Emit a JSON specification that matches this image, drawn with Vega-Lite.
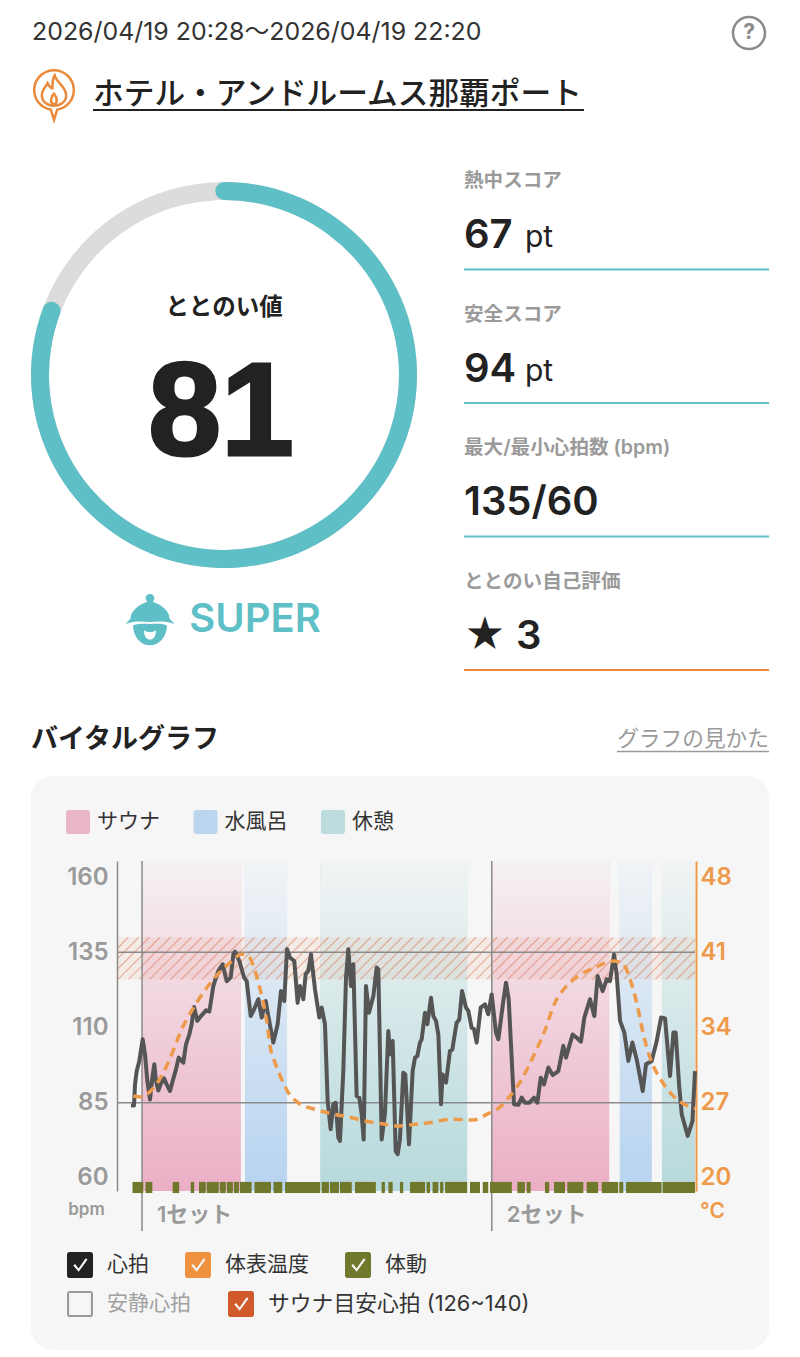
{
  "$schema": "https://vega.github.io/schema/vega-lite/v6.json",
  "padding": 0,
  "background": "white",
  "spacing": 0,
  "config": {
    "font": "Inter, Noto Sans CJK JP",
    "view": {"stroke": null},
    "concat": {"spacing": 0}
  },
  "datasets": {
    "heart": [
      {"t":-0.4,"bpm":84.1},{"t":0.2,"bpm":84.1},{"t":0.4,"bpm":91.1},{"t":0.73,"bpm":95.5},{"t":1.26,"bpm":98.9},{"t":1.93,"bpm":106.1},{"t":2.39,"bpm":101.1},{"t":2.86,"bpm":92.2},{"t":3.39,"bpm":86.1},{"t":3.85,"bpm":93.3},{"t":4.25,"bpm":97.8},{"t":4.58,"bpm":92.2},{"t":5.05,"bpm":89.1},{"t":5.51,"bpm":91.1},{"t":6.18,"bpm":93.1},{"t":6.71,"bpm":91.1},{"t":7.38,"bpm":88.9},{"t":7.91,"bpm":92.2},{"t":8.57,"bpm":96.1},{"t":9.1,"bpm":100},{"t":10.03,"bpm":98.3},{"t":10.56,"bpm":104.4},{"t":11.23,"bpm":107.7},{"t":11.69,"bpm":111.1},{"t":12.16,"bpm":116.8},{"t":12.82,"bpm":112.2},{"t":13.55,"bpm":113.8},{"t":14.55,"bpm":115.7},{"t":15.22,"bpm":115.3},{"t":16.01,"bpm":123.8},{"t":17.01,"bpm":128.8},{"t":17.87,"bpm":131},{"t":18.67,"bpm":125.4},{"t":19.47,"bpm":126.6},{"t":20,"bpm":134.3},{"t":20.33,"bpm":135.2},{"t":21.2,"bpm":132.1},{"t":22.13,"bpm":126.6},{"t":22.66,"bpm":125.4},{"t":23.46,"bpm":113.8},{"t":23.99,"bpm":115.5},{"t":24.98,"bpm":119.4},{"t":25.65,"bpm":113.3},{"t":26.45,"bpm":118.8},{"t":26.96,"bpm":113.8},{"t":27.96,"bpm":105},{"t":28.82,"bpm":111},{"t":29.49,"bpm":122.1},{"t":30.15,"bpm":118.8},{"t":30.69,"bpm":136},{"t":31.28,"bpm":133.2},{"t":32.15,"bpm":132.1},{"t":32.81,"bpm":118.2},{"t":33.28,"bpm":123.8},{"t":33.94,"bpm":119.4},{"t":34.41,"bpm":127.7},{"t":34.94,"bpm":128.8},{"t":35.47,"bpm":134.3},{"t":36.27,"bpm":122.7},{"t":37.13,"bpm":113.3},{"t":37.6,"bpm":116.6},{"t":38.26,"bpm":111.1},{"t":38.79,"bpm":85.6},{"t":39.39,"bpm":76.2},{"t":39.92,"bpm":84.5},{"t":40.39,"bpm":85},{"t":40.92,"bpm":73.4},{"t":41.25,"bpm":72.3},{"t":41.91,"bpm":95.5},{"t":42.45,"bpm":126.6},{"t":42.91,"bpm":136},{"t":43.44,"bpm":123.8},{"t":43.91,"bpm":131},{"t":44.57,"bpm":87.2},{"t":45.1,"bpm":86.7},{"t":45.57,"bpm":81.2},{"t":45.97,"bpm":72.8},{"t":46.43,"bpm":123.8},{"t":47.03,"bpm":114.9},{"t":47.9,"bpm":120.5},{"t":48.56,"bpm":129.9},{"t":48.89,"bpm":129.3},{"t":49.56,"bpm":72.8},{"t":50.22,"bpm":81.7},{"t":50.88,"bpm":108.8},{"t":51.22,"bpm":101.1},{"t":51.75,"bpm":105.5},{"t":52.35,"bpm":69},{"t":52.75,"bpm":67.9},{"t":53.2,"bpm":72.8},{"t":53.87,"bpm":95},{"t":54.27,"bpm":94.4},{"t":55,"bpm":71.2},{"t":55.73,"bpm":95.5},{"t":56.2,"bpm":100},{"t":56.66,"bpm":100.5},{"t":57.19,"bpm":105},{"t":57.53,"bpm":106.1},{"t":58.19,"bpm":114.9},{"t":58.66,"bpm":111.1},{"t":59.39,"bpm":119.9},{"t":59.85,"bpm":113.8},{"t":60.38,"bpm":112.2},{"t":60.85,"bpm":107.7},{"t":61.38,"bpm":84.5},{"t":61.71,"bpm":94.4},{"t":62.38,"bpm":91.7},{"t":63.17,"bpm":102.2},{"t":63.64,"bpm":102.7},{"t":64.5,"bpm":111.6},{"t":65.03,"bpm":112.7},{"t":65.57,"bpm":122.1},{"t":66.36,"bpm":116.6},{"t":66.83,"bpm":115.5},{"t":67.49,"bpm":109.9},{"t":67.96,"bpm":109.4},{"t":68.49,"bpm":105},{"t":69.29,"bpm":116.6},{"t":70.15,"bpm":117.7},{"t":70.81,"bpm":114.4},{"t":71.48,"bpm":121},{"t":72.34,"bpm":108.3},{"t":72.81,"bpm":106.1},{"t":73.8,"bpm":118.8},{"t":74.34,"bpm":124.9},{"t":74.87,"bpm":119.4},{"t":75.93,"bpm":84.5},{"t":76.8,"bpm":84.3},{"t":77.46,"bpm":86.7},{"t":78.12,"bpm":85},{"t":78.99,"bpm":85},{"t":79.92,"bpm":86.7},{"t":80.58,"bpm":85},{"t":81.25,"bpm":93.3},{"t":81.91,"bpm":91.1},{"t":82.77,"bpm":96.7},{"t":83.64,"bpm":94.2},{"t":84.76,"bpm":95.5},{"t":85.76,"bpm":103.9},{"t":86.29,"bpm":100},{"t":87.62,"bpm":107.7},{"t":88.42,"bpm":106.6},{"t":89.28,"bpm":105.3},{"t":89.95,"bpm":113.3},{"t":91.08,"bpm":119.4},{"t":91.94,"bpm":113.8},{"t":92.6,"bpm":127.1},{"t":93.6,"bpm":122.1},{"t":94.4,"bpm":126},{"t":95.06,"bpm":125.4},{"t":95.86,"bpm":134.3},{"t":96.39,"bpm":127.7},{"t":97.06,"bpm":112.2},{"t":97.92,"bpm":108.3},{"t":98.72,"bpm":98.9},{"t":99.52,"bpm":105},{"t":100.38,"bpm":99.4},{"t":101.58,"bpm":88.9},{"t":102.24,"bpm":97.8},{"t":103.37,"bpm":98.9},{"t":104.37,"bpm":105.5},{"t":105.23,"bpm":113.3},{"t":106.03,"bpm":113},{"t":107.02,"bpm":93.9},{"t":107.69,"bpm":108.3},{"t":108.15,"bpm":108.3},{"t":108.82,"bpm":91.1},{"t":109.35,"bpm":81.2},{"t":110.55,"bpm":74},{"t":111.49,"bpm":78.9},{"t":112,"bpm":95.5}
    ],
    "skin": [
      {"t":0.07,"temp":27.63},{"t":1.73,"temp":27.53},{"t":3.39,"temp":28.03},{"t":6.05,"temp":29.8},{"t":7.38,"temp":31.13},{"t":9.7,"temp":33.83},{"t":12.69,"temp":36.31},{"t":16.01,"temp":38.48},{"t":19.34,"temp":40.03},{"t":21.66,"temp":40.81},{"t":22.99,"temp":40.65},{"t":24.32,"temp":39.26},{"t":25.65,"temp":36.93},{"t":26.65,"temp":34.6},{"t":27.31,"temp":32.28},{"t":28.29,"temp":30.73},{"t":29.49,"temp":29.33},{"t":30.95,"temp":27.94},{"t":32.94,"temp":27},{"t":36.27,"temp":26.39},{"t":39.59,"temp":25.98},{"t":43.58,"temp":25.61},{"t":46.23,"temp":25.3},{"t":49.56,"temp":25.05},{"t":52.88,"temp":24.84},{"t":56.2,"temp":24.99},{"t":59.19,"temp":25.15},{"t":63.17,"temp":25.46},{"t":67.82,"temp":25.4},{"t":70.49,"temp":25.92},{"t":73.14,"temp":26.6},{"t":75.13,"temp":27.63},{"t":77.46,"temp":29.18},{"t":80.12,"temp":31.66},{"t":81.78,"temp":33.36},{"t":84.1,"temp":36.31},{"t":86.09,"temp":37.7},{"t":88.75,"temp":38.79},{"t":92.07,"temp":39.57},{"t":95.73,"temp":40.19},{"t":97.72,"temp":39.88},{"t":99.05,"temp":38.48},{"t":100.38,"temp":36.31},{"t":101.71,"temp":33.36},{"t":103.04,"temp":31.19},{"t":105.36,"temp":29.02},{"t":107.36,"temp":27.78},{"t":109.68,"temp":26.91},{"t":112,"temp":26.48}
    ],
    "movement": [
      {"start":-0.1,"end":2.05},{"start":2.5,"end":3.85},{"start":7.9,"end":9.2},{"start":11.5,"end":12.2},{"start":13.15,"end":14.5},{"start":14.7,"end":17.1},{"start":17.3,"end":18.5},{"start":18.7,"end":19.9},{"start":20.1,"end":21.1},{"start":21.3,"end":23.65},{"start":24.2,"end":27.5},{"start":28,"end":29.75},{"start":30.3,"end":37.3},{"start":37.6,"end":39.05},{"start":39.25,"end":41.05},{"start":41.25,"end":43.6},{"start":44.25,"end":48.4},{"start":49.55,"end":50.2},{"start":50.9,"end":51.75},{"start":53.2,"end":53.85},{"start":55.2,"end":58.2},{"start":58.5,"end":59.2},{"start":59.7,"end":60.85},{"start":61.2,"end":61.85},{"start":62.2,"end":66.6},{"start":67.15,"end":69.15},{"start":69.7,"end":70.8},{"start":71.15,"end":75.5},{"start":76.6,"end":78.1},{"start":78.45,"end":79.25},{"start":82.1,"end":82.95},{"start":83.9,"end":86.1},{"start":86.55,"end":89.75},{"start":90.4,"end":92.7},{"start":93.4,"end":96.7},{"start":96.9,"end":97.7},{"start":98.25,"end":105.35},{"start":105.55,"end":112}
    ],
    "phases": [
      {"phase":"サウナ","start":1.8,"end":21.5},{"phase":"水風呂","start":22.3,"end":30.7},{"phase":"休憩","start":37.3,"end":66.6},{"phase":"サウナ","start":71.5,"end":94.9},{"phase":"水風呂","start":97,"end":103.4},{"phase":"休憩","start":105.4,"end":112}
    ],
    "hatch": [
      {"t0":-3,"t1":-0.93,"lo":136.5,"hi":140},{"t0":-3,"t1":1.17,"lo":133,"hi":140},{"t0":-3,"t1":3.27,"lo":129.5,"hi":140},{"t0":-3,"t1":5.37,"lo":126,"hi":140},{"t0":-0.9,"t1":7.47,"lo":126,"hi":140},{"t0":1.2,"t1":9.57,"lo":126,"hi":140},{"t0":3.3,"t1":11.67,"lo":126,"hi":140},{"t0":5.4,"t1":13.77,"lo":126,"hi":140},{"t0":7.5,"t1":15.87,"lo":126,"hi":140},{"t0":9.6,"t1":17.97,"lo":126,"hi":140},{"t0":11.7,"t1":20.07,"lo":126,"hi":140},{"t0":13.8,"t1":22.17,"lo":126,"hi":140},{"t0":15.9,"t1":24.27,"lo":126,"hi":140},{"t0":18,"t1":26.37,"lo":126,"hi":140},{"t0":20.1,"t1":28.47,"lo":126,"hi":140},{"t0":22.2,"t1":30.57,"lo":126,"hi":140},{"t0":24.3,"t1":32.67,"lo":126,"hi":140},{"t0":26.4,"t1":34.77,"lo":126,"hi":140},{"t0":28.5,"t1":36.87,"lo":126,"hi":140},{"t0":30.6,"t1":38.97,"lo":126,"hi":140},{"t0":32.7,"t1":41.07,"lo":126,"hi":140},{"t0":34.8,"t1":43.17,"lo":126,"hi":140},{"t0":36.9,"t1":45.27,"lo":126,"hi":140},{"t0":39,"t1":47.37,"lo":126,"hi":140},{"t0":41.1,"t1":49.47,"lo":126,"hi":140},{"t0":43.2,"t1":51.57,"lo":126,"hi":140},{"t0":45.3,"t1":53.67,"lo":126,"hi":140},{"t0":47.4,"t1":55.77,"lo":126,"hi":140},{"t0":49.5,"t1":57.87,"lo":126,"hi":140},{"t0":51.6,"t1":59.97,"lo":126,"hi":140},{"t0":53.7,"t1":62.07,"lo":126,"hi":140},{"t0":55.8,"t1":64.17,"lo":126,"hi":140},{"t0":57.9,"t1":66.27,"lo":126,"hi":140},{"t0":60,"t1":68.37,"lo":126,"hi":140},{"t0":62.1,"t1":70.47,"lo":126,"hi":140},{"t0":64.2,"t1":72.57,"lo":126,"hi":140},{"t0":66.3,"t1":74.67,"lo":126,"hi":140},{"t0":68.4,"t1":76.77,"lo":126,"hi":140},{"t0":70.5,"t1":78.87,"lo":126,"hi":140},{"t0":72.6,"t1":80.97,"lo":126,"hi":140},{"t0":74.7,"t1":83.07,"lo":126,"hi":140},{"t0":76.8,"t1":85.17,"lo":126,"hi":140},{"t0":78.9,"t1":87.27,"lo":126,"hi":140},{"t0":81,"t1":89.37,"lo":126,"hi":140},{"t0":83.1,"t1":91.47,"lo":126,"hi":140},{"t0":85.2,"t1":93.57,"lo":126,"hi":140},{"t0":87.3,"t1":95.67,"lo":126,"hi":140},{"t0":89.4,"t1":97.77,"lo":126,"hi":140},{"t0":91.5,"t1":99.87,"lo":126,"hi":140},{"t0":93.6,"t1":101.97,"lo":126,"hi":140},{"t0":95.7,"t1":104.07,"lo":126,"hi":140},{"t0":97.8,"t1":106.17,"lo":126,"hi":140},{"t0":99.9,"t1":108.27,"lo":126,"hi":140},{"t0":102,"t1":110.37,"lo":126,"hi":140},{"t0":104.1,"t1":112,"lo":126,"hi":139.2},{"t0":106.2,"t1":112,"lo":126,"hi":135.7},{"t0":108.3,"t1":112,"lo":126,"hi":132.2},{"t0":110.4,"t1":112,"lo":126,"hi":128.7}
    ],
    "stats": [
      {"metric":"熱中スコア","value":"67","unit":"pt"},
      {"metric":"安全スコア","value":"94","unit":"pt"},
      {"metric":"最大/最小心拍数 (bpm)","value":"135/60"},
      {"metric":"ととのい自己評価","value":"★ 3"}
    ]
  },
  "vconcat": [
    {
      "width": 800,
      "height": 136,
      "resolve": {"scale": {"x": "independent"}},
      "layer": [
        {
          "layer": [
            {
              "data": {"values": [{"row":"period","anchor":"icon","label":"2026/04/19 20:28～2026/04/19 22:20"}]},
              "mark": {"type":"text","align":"left","dx":-22,"fontSize":24.9,"color":"#333"},
              "encoding": {
                "x": {"field":"anchor","type":"nominal","axis":null,"scale":{"type":"point","padding":0,"domain":["icon","help"],"range":[54,749]}},
                "y": {"field":"row","type":"nominal","axis":null,"scale":{"type":"point","padding":0,"domain":["period","facility"],"range":[33,93]}},
                "text": {"field":"label"}
              }
            },
            {
              "data": {"values": [{"row":"period","anchor":"help"}]},
              "mark": {"type":"point","filled":false,"opacity":1,"size":1024,"shape":"circle","stroke":"#8a8a8a","strokeWidth":2.5},
              "encoding": {
                "x": {"field":"anchor","type":"nominal","axis":null,"scale":{"type":"point","padding":0,"domain":["icon","help"],"range":[54,749]}},
                "y": {"field":"row","type":"nominal","axis":null,"scale":{"type":"point","padding":0,"domain":["period","facility"],"range":[33,93]}}
              }
            },
            {
              "data": {"values": [{"row":"period","anchor":"help","label":"?"}]},
              "mark": {"type":"text","fontSize":21,"fontWeight":700,"color":"#8a8a8a"},
              "encoding": {
                "x": {"field":"anchor","type":"nominal","axis":null,"scale":{"type":"point","padding":0,"domain":["icon","help"],"range":[54,749]}},
                "y": {"field":"row","type":"nominal","axis":null,"scale":{"type":"point","padding":0,"domain":["period","facility"],"range":[33,93]}},
                "text": {"field":"label"}
              }
            },
            {
              "data": {"values": [{"row":"facility","anchor":"icon"}]},
              "mark": {"type":"point","filled":false,"opacity":1,"size":4096,"stroke":"#e98a3c","strokeWidth":2.5,
                "shape":"M0,0.84 L-0.1,0.52 A0.62 0.62 0 1 1 0.1,0.52 Z M0.02,-0.55 C0.1,-0.3 0.38,-0.2 0.38,0.08 C0.38,0.28 0.2,0.4 0,0.4 C-0.2,0.4 -0.38,0.28 -0.38,0.08 C-0.38,-0.1 -0.25,-0.2 -0.2,-0.3 C-0.15,-0.2 -0.1,-0.15 -0.05,-0.15 C-0.05,-0.3 -0.05,-0.45 0.02,-0.55 Z M0,0.38 C-0.13,0.3 -0.12,0.15 0,0.02 C0.1,0.15 0.13,0.3 0,0.38 Z"},
              "encoding": {
                "x": {"field":"anchor","type":"nominal","axis":null,"scale":{"type":"point","padding":0,"domain":["icon","help"],"range":[54,749]}},
                "y": {"field":"row","type":"nominal","axis":null,"scale":{"type":"point","padding":0,"domain":["period","facility"],"range":[33,93]}}
              }
            }
          ]
        },
        {
          "layer": [
            {
              "data": {"values": [{"row":"facility","anchor":"start","label":"ホテル・アンドルームス那覇ポート"}]},
              "mark": {"type":"text","align":"left","dy":2,"fontSize":30.7,"fontWeight":500,"color":"#222"},
              "encoding": {
                "x": {"field":"anchor","type":"nominal","axis":null,"scale":{"type":"point","padding":0,"domain":["start","end"],"range":[93,584]}},
                "y": {"field":"row","type":"nominal","axis":null,"scale":{"type":"point","padding":0,"domain":["period","facility"],"range":[33,93]}},
                "text": {"field":"label"}
              }
            },
            {
              "data": {"values": [{"row":"facility","anchor":"start","to":"end"}]},
              "mark": {"type":"rule","color":"#222","strokeWidth":2,"yOffset":17},
              "encoding": {
                "x": {"field":"anchor","type":"nominal","axis":null,"scale":{"type":"point","padding":0,"domain":["start","end"],"range":[93,584]}},
                "x2": {"field":"to"},
                "y": {"field":"row","type":"nominal","axis":null,"scale":{"type":"point","padding":0,"domain":["period","facility"],"range":[33,93]}}
              }
            }
          ]
        }
      ]
    },
    {
      "spacing": 15,
      "hconcat": [
        {
          "width": 448,
          "height": 478,
          "data": {"values": [{"label":"ととのい値","score":81,"max":100,"rank":"SUPER"}]},
          "layer": [
            {
              "mark": {"type":"arc","radius":193,"radius2":175,"color":"#dcdcdc"},
              "encoding": {"theta": {"field":"max","type":"quantitative","scale":{"domain":[0,100],"range":[-0.047,6.33]}}}
            },
            {
              "mark": {"type":"arc","radius":193,"radius2":175,"cornerRadius":9,"color":"#5fbfc6"},
              "encoding": {"theta": {"field":"score","type":"quantitative","scale":{"domain":[0,100],"range":[-0.047,6.33]}}}
            },
            {
              "mark": {"type":"text","dy":-67,"fontSize":23.5,"fontWeight":600,"color":"#222"},
              "encoding": {"text": {"field":"label"}}
            },
            {
              "mark": {"type":"text","dy":41,"dx":-3,"font":"Liberation Sans","fontSize":131,"fontWeight":700,"color":"#222","stroke":"#222","strokeWidth":3},
              "encoding": {"text": {"field":"score","type":"quantitative"}}
            },
            {
              "mark": {"type":"point","filled":true,"size":2500,"color":"#5fbfc6","opacity":1,"xOffset":-74,"yOffset":244,
                "shape":"M-0.78,-0.02 C-0.78,-0.35 -0.4,-0.6 -0.12,-0.68 L-0.18,-0.82 A0.16 0.16 0 1 1 0.18,-0.82 L0.12,-0.68 C0.4,-0.6 0.78,-0.35 0.78,-0.02 L0.98,0.2 C0.6,0.06 0.3,0.1 0,0.12 C-0.3,0.1 -0.6,0.06 -0.98,0.2 Z M-0.68,0.26 C-0.4,0.16 -0.2,0.2 0,0.2 C0.2,0.2 0.4,0.16 0.68,0.26 C0.66,0.75 0.35,1.05 0,1.05 C-0.35,1.05 -0.66,0.75 -0.68,0.26 Z"},
              "encoding": {}
            },
            {
              "mark": {"type":"point","filled":true,"size":2500,"color":"white","opacity":1,"xOffset":-74,"yOffset":244,
                "shape":"M-0.24,0.45 C-0.1,0.55 0.1,0.55 0.24,0.45 C0.24,0.72 0.12,0.82 0,0.82 C-0.12,0.82 -0.24,0.72 -0.24,0.45 Z"},
              "encoding": {}
            },
            {
              "mark": {"type":"text","dx":31,"dy":245,"fontSize":40,"fontWeight":600,"color":"#5fbfc6"},
              "encoding": {"text": {"field":"rank"}}
            }
          ]
        },
        {
          "width": 305,
          "height": 534,
          "data": {"name":"stats"},
          "layer": [
            {
              "mark": {"type":"text","align":"left","dx":-152.5,"fontSize":19.6,"fontWeight":600,"color":"#9a9a9a"},
              "encoding": {
                "y": {"field":"metric","type":"nominal","axis":null,"bandPosition":0.34,"scale":{"type":"band","paddingInner":0,"paddingOuter":0,"domain":["熱中スコア","安全スコア","最大/最小心拍数 (bpm)","ととのい自己評価"]}},
                "text": {"field":"metric"}
              }
            },
            {
              "mark": {"type":"text","align":"left","dx":-152.5,"fontSize":40,"fontWeight":600,"color":"#222"},
              "encoding": {
                "y": {"field":"metric","type":"nominal","axis":null,"bandPosition":0.75,"scale":{"type":"band","paddingInner":0,"paddingOuter":0,"domain":["熱中スコア","安全スコア","最大/最小心拍数 (bpm)","ととのい自己評価"]}},
                "text": {"field":"value"}
              }
            },
            {
              "transform": [{"filter":"datum.unit"}],
              "mark": {"type":"text","align":"left","dx":-91.5,"dy":2,"fontSize":30,"color":"#222"},
              "encoding": {
                "y": {"field":"metric","type":"nominal","axis":null,"bandPosition":0.75,"scale":{"type":"band","paddingInner":0,"paddingOuter":0,"domain":["熱中スコア","安全スコア","最大/最小心拍数 (bpm)","ととのい自己評価"]}},
                "text": {"field":"unit"}
              }
            },
            {
              "mark": {"type":"rule","strokeWidth":2},
              "encoding": {
                "y": {"field":"metric","type":"nominal","axis":null,"bandPosition":1,"scale":{"type":"band","paddingInner":0,"paddingOuter":0,"domain":["熱中スコア","安全スコア","最大/最小心拍数 (bpm)","ととのい自己評価"]}},
                "color": {"field":"metric","type":"nominal","legend":null,"scale":{"domain":["熱中スコア","安全スコア","最大/最小心拍数 (bpm)","ととのい自己評価"],"range":["#5fbfc6","#5fbfc6","#5fbfc6","#e98a3c"]}}
              }
            }
          ]
        }
      ]
    },
    {
      "width": 800,
      "height": 105,
      "resolve": {"scale": {"x": "independent"}},
      "layer": [
        {
          "data": {"values": [{"side":"left","label":"バイタルグラフ"}]},
          "mark": {"type":"text","align":"left","dy":16.5,"fontSize":27,"fontWeight":700,"color":"#222"},
          "encoding": {
            "x": {"field":"side","type":"nominal","axis":null,"scale":{"type":"point","padding":0,"domain":["left","right"],"range":[31,769]}},
            "text": {"field":"label"}
          }
        },
        {
          "data": {"values": [{"side":"right","label":"グラフの見かた"}]},
          "mark": {"type":"text","align":"right","dy":15.5,"fontSize":21.7,"color":"#9a9a9a"},
          "encoding": {
            "x": {"field":"side","type":"nominal","axis":null,"scale":{"type":"point","padding":0,"domain":["left","right"],"range":[31,769]}},
            "text": {"field":"label"}
          }
        },
        {
          "data": {"values": [{"from":"start","to":"end"}]},
          "mark": {"type":"rule","color":"#9a9a9a","strokeWidth":1.5,"yOffset":28},
          "encoding": {
            "x": {"field":"from","type":"nominal","axis":null,"scale":{"type":"point","padding":0,"domain":["start","end"],"range":[617,769]}},
            "x2": {"field":"to"}
          }
        }
      ]
    },
    {
      "spacing": 16,
      "hconcat": [
        {
          "width": 15,
          "height": 1,
          "data": {"values": []},
          "mark": "rule",
          "encoding": {}
        },
        {
          "width": 738,
          "height": 574,
          "view": {"fill":"#f6f6f6","cornerRadius":22,"stroke":null},
          "resolve": {"scale": {"y": "independent", "color": "independent"}, "axis": {"y": "independent"}, "legend": {"color": "independent"}},
          "layer": [
            {
              "layer": [
                {
                  "data": {"name":"phases"},
                  "mark": {"type":"rect"},
                  "encoding": {
                    "x": {"field":"start","type":"quantitative","axis":null,"scale":{"domain":[0,112],"range":[102,664]}},
                    "x2": {"field":"end"},
                    "y": {"datum":165.32,"type":"quantitative","scale":{"domain":[55.68,165.32],"range":[415,85]},
                      "axis":{"orient":"left","offset":-86,"values":[60,85,110,135,160],"grid":false,"ticks":false,"labelOverlap":false,"labelBound":false,"domainColor":"#8a8a8a","domainWidth":1.5,"labelColor":"#9a9a9a","labelFontSize":24,"labelFontWeight":600,"labelPadding":9,"title":"bpm","titleAngle":0,"titleColor":"#9a9a9a","titleFontSize":17,"titleFontWeight":600,"titleX":-31,"titleY":433,"titleBaseline":"middle","titleAlign":"center"}},
                    "y2": {"datum":55.68},
                    "fill": {"field":"phase","type":"nominal","scale":{"domain":["サウナ","水風呂","休憩"],"range":["#ebafc5","#b6d3f0","#b6d9db"]},
                      "legend":{"orient":"none","legendX":65,"legendY":809,"direction":"horizontal","columns":3,"title":null,"padding":0,"symbolType":"M-0.8,-1 H0.8 A0.2 0.2 0 0 1 1,-0.8 V0.8 A0.2 0.2 0 0 1 0.8,1 H-0.8 A0.2 0.2 0 0 1 -1,0.8 V-0.8 A0.2 0.2 0 0 1 -0.8,-1 Z","symbolSize":576,"symbolOpacity":0.9,"labelFontSize":21,"labelColor":"#333","labelOffset":6,"columnPadding":32.5}}
                  }
                },
                {
                  "data": {"name":"phases"},
                  "mark": {"type":"rect","color":{"gradient":"linear","x1":0,"y1":0,"x2":0,"y2":1,"stops":[{"offset":0,"color":"rgba(246,246,246,0.92)"},{"offset":1,"color":"rgba(246,246,246,0)"}]}},
                  "encoding": {
                    "x": {"field":"start","type":"quantitative","axis":null,"scale":{"domain":[0,112],"range":[102,664]}},
                    "x2": {"field":"end"},
                    "y": {"datum":165.32,"type":"quantitative","scale":{"domain":[55.68,165.32],"range":[415,85]}},
                    "y2": {"datum":55.68}
                  }
                },
                {
                  "data": {"values": [{"from":-3,"to":112,"lo":126,"hi":140}]},
                  "mark": {"type":"rect","color":"#e0703c","opacity":0.08},
                  "encoding": {
                    "x": {"field":"from","type":"quantitative","axis":null,"scale":{"domain":[0,112],"range":[102,664]}},
                    "x2": {"field":"to"},
                    "y": {"field":"lo","type":"quantitative","scale":{"domain":[55.68,165.32],"range":[415,85]}},
                    "y2": {"field":"hi"}
                  }
                },
                {
                  "data": {"name":"hatch"},
                  "mark": {"type":"rule","color":"#d05a2c","opacity":0.38,"strokeWidth":1.3},
                  "encoding": {
                    "x": {"field":"t0","type":"quantitative","axis":null,"scale":{"domain":[0,112],"range":[102,664]}},
                    "x2": {"field":"t1"},
                    "y": {"field":"lo","type":"quantitative","scale":{"domain":[55.68,165.32],"range":[415,85]}},
                    "y2": {"field":"hi"}
                  }
                },
                {
                  "data": {"values": [{"bpm":135,"from":-3,"to":112},{"bpm":85,"from":-3,"to":112}]},
                  "mark": {"type":"rule","color":"#8a8a8a","strokeWidth":1.5},
                  "encoding": {
                    "x": {"field":"from","type":"quantitative","axis":null,"scale":{"domain":[0,112],"range":[102,664]}},
                    "x2": {"field":"to"},
                    "y": {"field":"bpm","type":"quantitative","scale":{"domain":[55.68,165.32],"range":[415,85]}}
                  }
                },
                {
                  "data": {"values": [{"set":"1セット","t":1.8},{"set":"2セット","t":71.5}]},
                  "mark": {"type":"rule","color":"#8a8a8a","strokeWidth":1.5},
                  "encoding": {
                    "x": {"field":"t","type":"quantitative","axis":null,"scale":{"domain":[0,112],"range":[102,664]}},
                    "y": {"datum":165.32,"type":"quantitative","scale":{"domain":[55.68,165.32],"range":[415,85]}},
                    "y2": {"datum":42.4}
                  }
                },
                {
                  "data": {"values": [{"set":"1セット","t":1.8},{"set":"2セット","t":71.5}]},
                  "mark": {"type":"text","align":"left","dx":15,"fontSize":22,"fontWeight":600,"color":"#9a9a9a"},
                  "encoding": {
                    "x": {"field":"t","type":"quantitative","axis":null,"scale":{"domain":[0,112],"range":[102,664]}},
                    "y": {"datum":47.7,"type":"quantitative","scale":{"domain":[55.68,165.32],"range":[415,85]}},
                    "text": {"field":"set"}
                  }
                },
                {
                  "data": {"name":"movement"},
                  "mark": {"type":"rect","color":"#70782c"},
                  "encoding": {
                    "x": {"field":"start","type":"quantitative","axis":null,"scale":{"domain":[0,112],"range":[102,664]}},
                    "x2": {"field":"end"},
                    "y": {"datum":58.7,"type":"quantitative","scale":{"domain":[55.68,165.32],"range":[415,85]}},
                    "y2": {"datum":55}
                  }
                },
                {
                  "data": {"name":"heart"},
                  "mark": {"type":"line","color":"#555","strokeWidth":4,"strokeJoin":"round"},
                  "encoding": {
                    "x": {"field":"t","type":"quantitative","axis":null,"scale":{"domain":[0,112],"range":[102,664]}},
                    "y": {"field":"bpm","type":"quantitative","scale":{"domain":[55.68,165.32],"range":[415,85]}}
                  }
                }
              ]
            },
            {
              "layer": [
                {
                  "data": {"name":"skin"},
                  "mark": {"type":"line","color":"#ee9a4b","strokeWidth":3.5,"strokeDash":[9,6],"interpolate":"monotone"},
                  "encoding": {
                    "x": {"field":"t","type":"quantitative","axis":null,"scale":{"domain":[0,112],"range":[102,664]}},
                    "y": {"field":"temp","type":"quantitative","scale":{"domain":[18.79,49.49],"range":[415,85]},
                      "axis":{"orient":"right","offset":-73,"values":[20,27,34,41,48],"grid":false,"ticks":false,"labelOverlap":false,"labelBound":false,"domainColor":"#ee9a4b","domainWidth":2,"labelColor":"#ee9a4b","labelFontSize":24,"labelFontWeight":600,"labelPadding":4,"title":"°C","titleAngle":0,"titleColor":"#ee9a4b","titleFontSize":21,"titleFontWeight":600,"titleX":16,"titleY":435,"titleBaseline":"middle","titleAlign":"center"}}
                  }
                }
              ]
            },
            {
              "data": {"values": [{"series":"心拍"},{"series":"体表温度"},{"series":"体動"}]},
              "mark": {"type":"point","filled":true,"opacity":0},
              "encoding": {
                "color": {"field":"series","type":"nominal","scale":{"domain":["心拍","体表温度","体動"],"range":["#222222","#ef9240","#70782c"]},
                  "legend":{"orient":"none","legendX":35,"legendY":475,"direction":"horizontal","columns":3,"title":null,"padding":0,"symbolType":"M-0.8,-1 H0.8 A0.2 0.2 0 0 1 1,-0.8 V0.8 A0.2 0.2 0 0 1 0.8,1 H-0.8 A0.2 0.2 0 0 1 -1,0.8 V-0.8 A0.2 0.2 0 0 1 -0.8,-1 Z M-0.52,0.04 L-0.1,0.52 L0.58,-0.42 L0.44,-0.52 L-0.11,0.26 L-0.38,-0.07 Z","symbolSize":676,"symbolOpacity":1,"labelFontSize":21,"labelColor":"#333","labelOffset":13,"columnPadding":35}}
              }
            },
            {
              "data": {"values": [{"series":"安静心拍"}]},
              "mark": {"type":"point","filled":true,"opacity":0},
              "encoding": {
                "color": {"field":"series","type":"nominal","scale":{"domain":["安静心拍"],"range":["#9a9a9a"]},
                  "legend":{"orient":"none","legendX":35,"legendY":514,"direction":"horizontal","columns":1,"title":null,"padding":0,"symbolType":"M-0.8,-1 H0.8 A0.2 0.2 0 0 1 1,-0.8 V0.8 A0.2 0.2 0 0 1 0.8,1 H-0.8 A0.2 0.2 0 0 1 -1,0.8 V-0.8 A0.2 0.2 0 0 1 -0.8,-1 Z M-0.8,-0.84 A0.04 0.04 0 0 0 -0.84,-0.8 V0.8 A0.04 0.04 0 0 0 -0.8,0.84 H0.8 A0.04 0.04 0 0 0 0.84,0.8 V-0.8 A0.04 0.04 0 0 0 0.8,-0.84 Z","symbolSize":676,"symbolOpacity":1,"labelFontSize":21,"labelColor":"#a0a0a0","labelOffset":13}}
              }
            },
            {
              "data": {"values": [{"series":"サウナ目安心拍 (126~140)"}]},
              "mark": {"type":"point","filled":true,"opacity":0},
              "encoding": {
                "color": {"field":"series","type":"nominal","scale":{"domain":["サウナ目安心拍 (126~140)"],"range":["#d05a2c"]},
                  "legend":{"orient":"none","legendX":196,"legendY":514,"direction":"horizontal","columns":1,"title":null,"padding":0,"symbolType":"M-0.8,-1 H0.8 A0.2 0.2 0 0 1 1,-0.8 V0.8 A0.2 0.2 0 0 1 0.8,1 H-0.8 A0.2 0.2 0 0 1 -1,0.8 V-0.8 A0.2 0.2 0 0 1 -0.8,-1 Z M-0.52,0.04 L-0.1,0.52 L0.58,-0.42 L0.44,-0.52 L-0.11,0.26 L-0.38,-0.07 Z","symbolSize":676,"symbolOpacity":1,"labelFontSize":21.8,"labelColor":"#333","labelOffset":13,"labelLimit":400}}
              }
            }
          ]
        }
      ]
    }
  ]
}
